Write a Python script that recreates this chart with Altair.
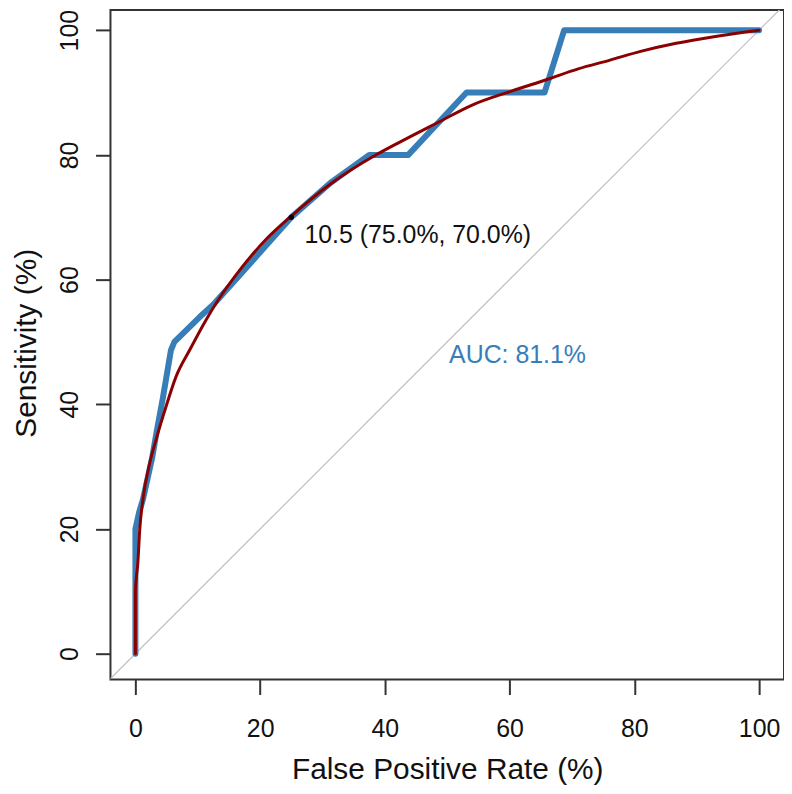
import altair as alt
import pandas as pd

# Empirical ROC curve (False positive rate %, sensitivity %)
roc_fpr = [0, 0, 0.6, 1.2, 2.7, 3.4, 4.4, 5.7, 6.25, 10.3, 12.5, 18.75, 25, 31.25, 37.5, 43.75, 53.1, 65.6, 68.75, 100]
roc_sens = [0, 20, 22.7, 24.7, 31.5, 35.6, 41, 48.7, 50, 54, 56, 63, 70, 75.5, 80, 80, 90, 90, 100, 100]

# Smoothed ROC curve
smooth_fpr = [0, 0, 0.4, 0.7, 1.2, 2.3, 3.3, 4.9, 6.5, 8.7, 11.3, 13.2, 17.1, 21, 25, 31.5, 38.4,
              42.1, 48.5, 54, 60.2, 66, 71, 76.1, 81, 86.7, 93, 100]
smooth_sens = [0, 10, 14.7, 20, 24.7, 30.6, 34.3, 39.6, 44.4, 48.7, 53.5, 56.6, 62, 66.5, 70.2, 75.5, 79.9,
               81.9, 85.2, 88, 90.2, 92.1, 93.8, 95.2, 96.6, 97.9, 99, 100]

# Best threshold point
thr_fpr = [25]
thr_sens = [70]
thr_label = ["10.5 (75.0%, 70.0%)"]
thr_label_pos = [27.1, 65.9]

# AUC annotation
auc_label = ["AUC: 81.1%"]
auc_label_pos = [50.3, 46.6]

# Identity line (clipped to the panel)
diag_x = [-5, 105]
diag_y = [-5, 105]

x_ticks = [0, 20, 40, 60, 80, 100]
y_ticks = [0, 20, 40, 60, 80, 100]

BLUE = "#377EB8"
RED = "#8B0000"
FONT = "Liberation Sans"

roc_df = pd.DataFrame({"fpr": roc_fpr, "sens": roc_sens, "i": range(len(roc_fpr))})
smooth_df = pd.DataFrame({"fpr": smooth_fpr, "sens": smooth_sens, "i": range(len(smooth_fpr))})
diag_df = pd.DataFrame({"fpr": diag_x, "sens": diag_y, "i": [0, 1]})
thr_df = pd.DataFrame({"fpr": thr_fpr, "sens": thr_sens})
thr_text_df = pd.DataFrame({"fpr": [thr_label_pos[0]], "sens": [thr_label_pos[1]], "t": thr_label})
auc_text_df = pd.DataFrame({"fpr": [auc_label_pos[0]], "sens": [auc_label_pos[1]], "t": auc_label})

xscale = alt.Scale(domain=[-4, 104], nice=False, zero=False)
yscale = alt.Scale(domain=[-4.15, 103.24], nice=False, zero=False)

xaxis = alt.Axis(
    values=x_ticks, grid=False, domain=False, tickSize=15, tickWidth=2, tickColor="#333333",
    labelFontSize=25, labelFont=FONT, labelColor="#111111", labelBaseline="alphabetic",
    labelPadding=42, labelFlush=False, labelOverlap=False,
    title="False Positive Rate (%)", titleFontSize=30, titleFont=FONT, titleFontWeight="normal",
    titleColor="#111111", titleBaseline="alphabetic", titleY=99,
)
yaxis = alt.Axis(
    values=y_ticks, grid=False, domain=False, tickSize=15, tickWidth=2, tickColor="#333333",
    labelFontSize=25, labelFont=FONT, labelColor="#111111", labelAngle=270, labelAlign="center",
    labelBaseline="alphabetic", labelPadding=18, labelFlush=False, labelOverlap=False,
    title="Sensitivity (%)", titleFontSize=30, titleFont=FONT, titleFontWeight="normal",
    titleColor="#111111", titleAngle=270, titleBaseline="alphabetic", titleX=-75, titleY=334.5,
    titleAlign="center",
)

X = alt.X("fpr:Q", scale=xscale, axis=xaxis)
Y = alt.Y("sens:Q", scale=yscale, axis=yaxis)
Xn = alt.X("fpr:Q", scale=xscale)
Yn = alt.Y("sens:Q", scale=yscale)

diag = alt.Chart(diag_df).mark_line(color="#BEBEBE", strokeWidth=1.2, clip=True).encode(
    x=X, y=Y, order="i:Q")
roc = alt.Chart(roc_df).mark_line(color=BLUE, strokeWidth=6, strokeJoin="round", strokeCap="round").encode(
    x=Xn, y=Yn, order="i:Q")
smooth = alt.Chart(smooth_df).mark_line(color=RED, strokeWidth=3, strokeJoin="round", strokeCap="round",
                                        interpolate="monotone").encode(
    x=Xn, y=Yn, order="i:Q")
pt = alt.Chart(thr_df).mark_point(filled=True, color="black", size=28, opacity=1).encode(x=Xn, y=Yn)
thr_text = alt.Chart(thr_text_df).mark_text(
    align="left", baseline="alphabetic", fontSize=25, font=FONT, color="#111111").encode(
    x=Xn, y=Yn, text="t:N")
auc_text = alt.Chart(auc_text_df).mark_text(
    align="left", baseline="alphabetic", fontSize=25, font=FONT, color=BLUE).encode(
    x=Xn, y=Yn, text="t:N")

chart = alt.layer(diag, roc, smooth, pt, thr_text, auc_text).properties(
    width=677, height=673,
    autosize=alt.AutoSizeParams(type="none"),
    padding={"left": 103, "top": 0, "right": 0, "bottom": 112},
    background="white",
).configure_view(stroke="#333333", strokeWidth=2)

chart.save("out.html", embed_options={"renderer": "svg", "actions": False})
